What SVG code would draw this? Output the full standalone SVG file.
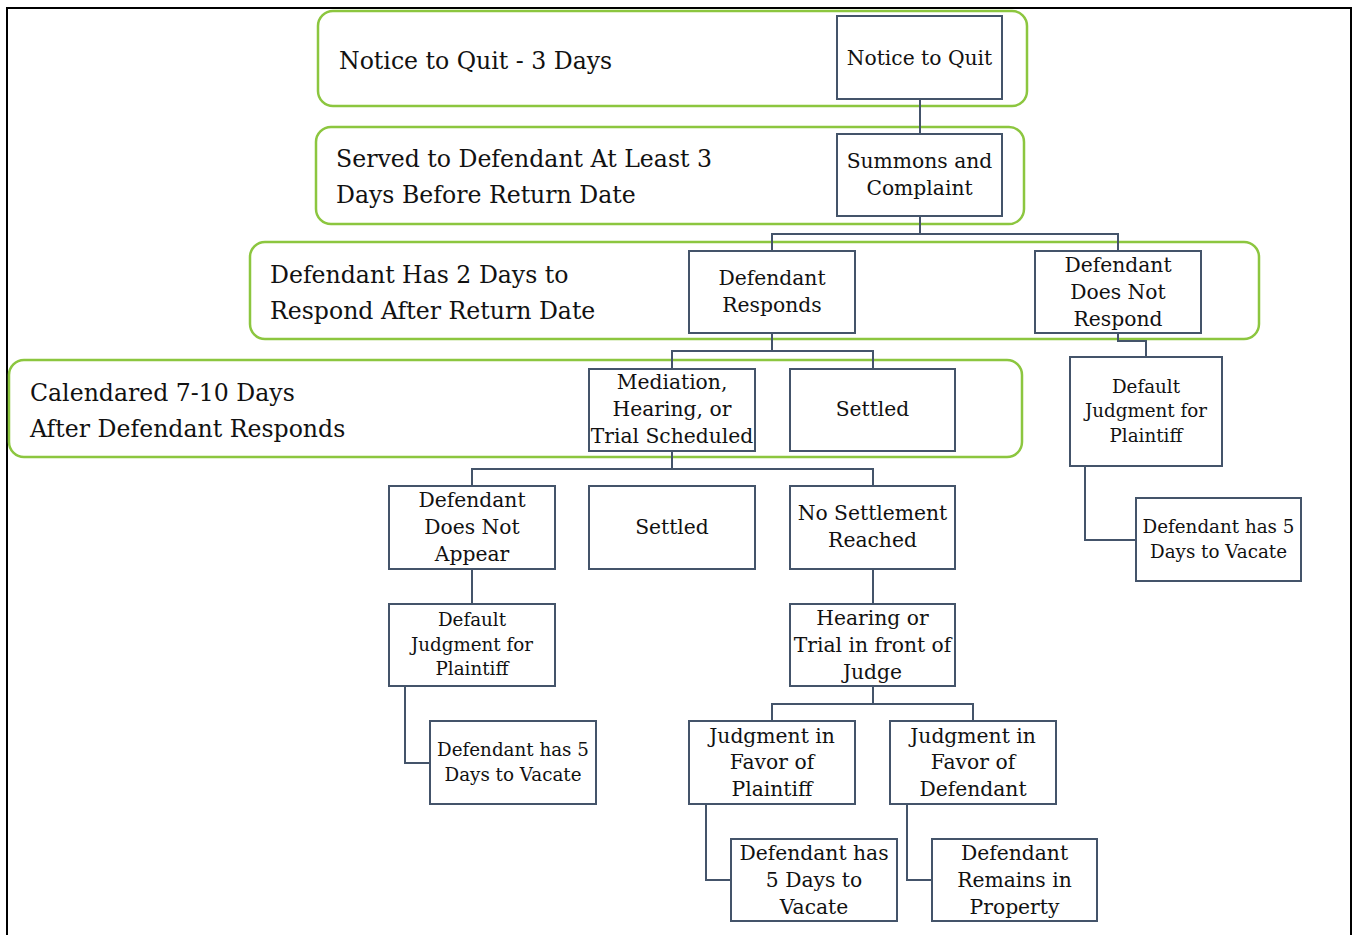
<svg xmlns="http://www.w3.org/2000/svg" width="1353" height="935" viewBox="0 0 1353 935">
<style>
.frame{fill:none;stroke:#000;stroke-width:2}
.band{fill:none;stroke:#8cc63f;stroke-width:2.5}
.box{fill:#fff;stroke:#44546a;stroke-width:2}
.conn{fill:none;stroke:#44546a;stroke-width:2}
text{font-family:"DejaVu Serif","Liberation Serif",serif;fill:#111}
.lab{font-size:23.6px}
.t{font-size:20.3px;text-anchor:middle}
.s{font-size:18.3px;text-anchor:middle}
</style>
<rect x="0" y="0" width="1353" height="935" fill="#fff"/>
<rect class="frame" x="7" y="8" width="1344" height="940"/>
<g id="bands">
<rect class="band" x="318" y="11" width="709" height="95" rx="15"/>
<rect class="band" x="316" y="127" width="708" height="97" rx="15"/>
<rect class="band" x="250" y="242" width="1009" height="97" rx="15"/>
<rect class="band" x="9" y="360" width="1013" height="97" rx="15"/>
</g>
<g id="labels">
<text class="lab" x="339" y="69">Notice to Quit - 3 Days</text>
<text class="lab" x="336" y="167">Served to Defendant At Least 3</text>
<text class="lab" x="336" y="203">Days Before Return Date</text>
<text class="lab" x="270" y="283">Defendant Has 2 Days to</text>
<text class="lab" x="270" y="319">Respond After Return Date</text>
<text class="lab" x="30" y="401">Calendared 7-10 Days</text>
<text class="lab" x="30" y="437">After Defendant Responds</text>
</g>
<g id="connectors">
<path class="conn" d="M920 99V134"/>
<path class="conn" d="M920 216V234M772 251V234H1118V251"/>
<path class="conn" d="M1118 333V341H1146V357"/>
<path class="conn" d="M1085 466V540H1136"/>
<path class="conn" d="M772 333V351M672 369V351H873V369"/>
<path class="conn" d="M672 451V469M472 486V469H873V486"/>
<path class="conn" d="M472 569V604"/>
<path class="conn" d="M405 686V763H430"/>
<path class="conn" d="M873 569V604"/>
<path class="conn" d="M873 686V704M772 721V704H973V721"/>
<path class="conn" d="M706 804V880H731"/>
<path class="conn" d="M907 804V880H932"/>
</g>
<g id="n-notice"><rect class="box" x="837" y="16" width="165" height="83"/><text class="t" x="919.5" y="65">Notice to Quit</text></g>
<g id="n-summons"><rect class="box" x="837" y="134" width="165" height="82"/><text class="t" x="919.5" y="168">Summons and</text><text class="t" x="919.5" y="195">Complaint</text></g>
<g id="n-responds"><rect class="box" x="689" y="251" width="166" height="82"/><text class="t" x="772" y="285">Defendant</text><text class="t" x="772" y="312">Responds</text></g>
<g id="n-notrespond"><rect class="box" x="1035" y="251" width="166" height="82"/><text class="t" x="1118" y="272">Defendant</text><text class="t" x="1118" y="299">Does Not</text><text class="t" x="1118" y="326">Respond</text></g>
<g id="n-default1"><rect class="box" x="1070" y="357" width="152" height="109"/><text class="s" x="1146" y="393">Default</text><text class="s" x="1146" y="417">Judgment for</text><text class="s" x="1146" y="442">Plaintiff</text></g>
<g id="n-vacate1"><rect class="box" x="1136" y="498" width="165" height="83"/><text class="s" x="1218.5" y="533">Defendant has 5</text><text class="s" x="1218.5" y="558">Days to Vacate</text></g>
<g id="n-mediation"><rect class="box" x="589" y="369" width="166" height="82"/><text class="t" x="672" y="389">Mediation,</text><text class="t" x="672" y="416">Hearing, or</text><text class="t" x="672" y="443">Trial Scheduled</text></g>
<g id="n-settled1"><rect class="box" x="790" y="369" width="165" height="82"/><text class="t" x="872.5" y="416">Settled</text></g>
<g id="n-notappear"><rect class="box" x="389" y="486" width="166" height="83"/><text class="t" x="472" y="507">Defendant</text><text class="t" x="472" y="534">Does Not</text><text class="t" x="472" y="561">Appear</text></g>
<g id="n-settled2"><rect class="box" x="589" y="486" width="166" height="83"/><text class="t" x="672" y="534">Settled</text></g>
<g id="n-nosettle"><rect class="box" x="790" y="486" width="165" height="83"/><text class="t" x="872.5" y="520">No Settlement</text><text class="t" x="872.5" y="547">Reached</text></g>
<g id="n-default2"><rect class="box" x="389" y="604" width="166" height="82"/><text class="s" x="472" y="626">Default</text><text class="s" x="472" y="651">Judgment for</text><text class="s" x="472" y="675">Plaintiff</text></g>
<g id="n-vacate2"><rect class="box" x="430" y="721" width="166" height="83"/><text class="s" x="513" y="756">Defendant has 5</text><text class="s" x="513" y="781">Days to Vacate</text></g>
<g id="n-hearing"><rect class="box" x="790" y="604" width="165" height="82"/><text class="t" x="872.5" y="625">Hearing or</text><text class="t" x="872.5" y="652">Trial in front of</text><text class="t" x="872.5" y="679">Judge</text></g>
<g id="n-favplaintiff"><rect class="box" x="689" y="721" width="166" height="83"/><text class="t" x="772" y="743">Judgment in</text><text class="t" x="772" y="769">Favor of</text><text class="t" x="772" y="796">Plaintiff</text></g>
<g id="n-favdefendant"><rect class="box" x="890" y="721" width="166" height="83"/><text class="t" x="973" y="743">Judgment in</text><text class="t" x="973" y="769">Favor of</text><text class="t" x="973" y="796">Defendant</text></g>
<g id="n-vacate3"><rect class="box" x="731" y="839" width="166" height="82"/><text class="t" x="814" y="860">Defendant has</text><text class="t" x="814" y="887">5 Days to</text><text class="t" x="814" y="914">Vacate</text></g>
<g id="n-remains"><rect class="box" x="932" y="839" width="165" height="82"/><text class="t" x="1014.5" y="860">Defendant</text><text class="t" x="1014.5" y="887">Remains in</text><text class="t" x="1014.5" y="914">Property</text></g>
</svg>
